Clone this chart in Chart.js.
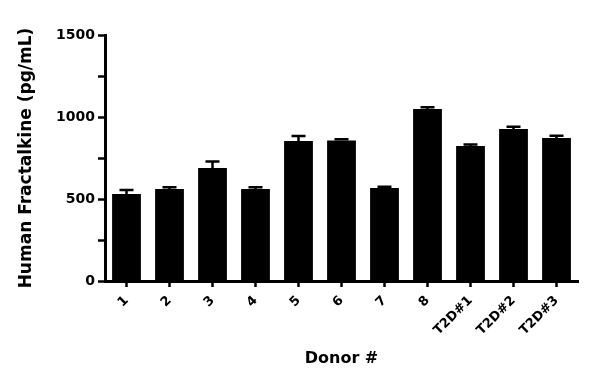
<!DOCTYPE html>
<html>
<head>
<meta charset="utf-8">
<script src="https://cdn.jsdelivr.net/npm/chart.js@4"></script>
<style>
  body { margin: 0; background: #fff; }
  #wrap { width: 600px; height: 388px; }
</style>
</head>
<body>
<div id="wrap"><canvas id="fractalkineChart"></canvas></div>
<script>
// donantes y valores
const donors = ["1", "2", "3", "4", "5", "6", "7", "8", "T2D#1", "T2D#2", "T2D#3"];
const meanValues = [530, 561, 689, 561, 854, 856, 567, 1049, 823, 927, 872];
const errValues = [25, 10, 39, 10, 30, 8, 8, 10, 10, 14, 14];
const yTicks = [0, 500, 1000, 1500];

// barras de error solo hacia arriba (estilo GraphPad)
const errorBars = {
  id: "errorBars",
  afterDatasetsDraw(chart) {
    const ctx = chart.ctx;
    const yScale = chart.scales.y;
    const meta = chart.getDatasetMeta(0);
    ctx.save();
    ctx.strokeStyle = "#000";
    ctx.lineWidth = 2.5;
    meta.data.forEach((bar, i) => {
      const top = yScale.getPixelForValue(meanValues[i] + errValues[i]);
      const base = yScale.getPixelForValue(meanValues[i]);
      ctx.beginPath();
      ctx.moveTo(bar.x, base);
      ctx.lineTo(bar.x, top);
      ctx.moveTo(bar.x - 7, top);
      ctx.lineTo(bar.x + 7, top);
      ctx.stroke();
    });
    ctx.restore();
  },
};

document.addEventListener("DOMContentLoaded", function () {
  const ctx = document.getElementById("fractalkineChart").getContext("2d");
  const font = "'DejaVu Sans', sans-serif";
  new Chart(ctx, {
    type: "bar",
    data: {
      labels: donors,
      datasets: [
        {
          label: "Human Fractalkine",
          data: meanValues,
          backgroundColor: "#000",
          borderWidth: 0,
          barPercentage: 0.67,
          categoryPercentage: 1,
        },
      ],
    },
    plugins: [errorBars],
    options: {
      responsive: true,
      maintainAspectRatio: false,
      animation: false,
      layout: { padding: { left: 16, right: 22, top: 35, bottom: 20 } },
      plugins: {
        legend: { display: false },
        tooltip: { enabled: false },
      },
      scales: {
        x: {
          afterFit: (scale) => { scale.height = 87; },
          grid: {
            offset: false,
            drawOnChartArea: false,
            drawTicks: true,
            tickLength: 6,
            tickWidth: 2.5,
            color: "#000",
          },
          border: { display: true, width: 3, color: "#000" },
          ticks: {
            color: "#000",
            font: { family: font, size: 13, weight: "bold" },
            minRotation: 45,
            maxRotation: 45,
            padding: 6,
          },
          title: {
            display: true,
            text: "Donor #",
            color: "#000",
            font: { family: font, size: 16, weight: "bold" },
            padding: { top: 4, bottom: 0 },
          },
        },
        y: {
          min: 0,
          max: 1500,
          afterFit: (scale) => { scale.width = 89; },
          afterBuildTicks: (scale) => {
            scale.ticks = [0, 250, 500, 750, 1000, 1250, 1500].map((v) => ({ value: v }));
          },
          grid: {
            drawOnChartArea: false,
            drawTicks: true,
            tickLength: 7,
            tickWidth: 2.5,
            color: "#000",
          },
          border: { display: true, width: 3, color: "#000" },
          ticks: {
            color: "#000",
            font: { family: font, size: 14, weight: "bold" },
            padding: 3,
            callback: (v) => (yTicks.includes(v) ? v : ""),
          },
          title: {
            display: true,
            text: "Human Fractalkine (pg/mL)",
            color: "#000",
            font: { family: font, size: 17, weight: "bold" },
            padding: { top: 0, bottom: 6 },
          },
        },
      },
    },
  });
});
</script>
</body>
</html>
